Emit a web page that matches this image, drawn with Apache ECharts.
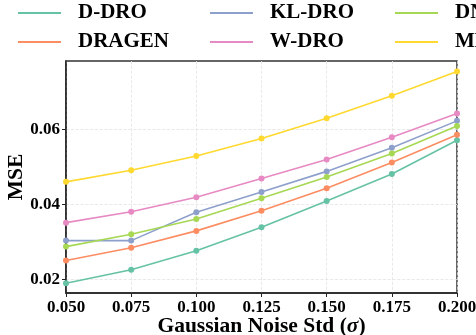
<!DOCTYPE html>
<html>
<head>
<meta charset="utf-8">
<script src="https://cdn.jsdelivr.net/npm/echarts@6/dist/echarts.min.js"></script>
<style>
  html, body { margin: 0; padding: 0; background: #fff; }
  #chart { width: 476px; height: 335px; }
</style>
</head>
<body>
<div id="chart"></div>
<script>
// noise levels on the x axis
const noiseStd = [0.050, 0.075, 0.100, 0.125, 0.150, 0.175, 0.200]
const xTicks = [0.050, 0.075, 0.100, 0.125, 0.150, 0.175, 0.200]
const yTicks = [0.02, 0.04, 0.06]

// MSE per method
const dDro   = [0.0189, 0.0225, 0.0276, 0.0339, 0.0409, 0.0481, 0.0571]
const dragen = [0.0250, 0.0284, 0.0329, 0.0383, 0.0443, 0.0512, 0.0586]
const klDro  = [0.0303, 0.0303, 0.0379, 0.0433, 0.0488, 0.0551, 0.0623]
const wDro   = [0.0351, 0.0380, 0.0419, 0.0469, 0.0520, 0.0579, 0.0643]
const dnn    = [0.0287, 0.0320, 0.0361, 0.0416, 0.0473, 0.0536, 0.0609]
const mmd    = [0.0460, 0.0491, 0.0529, 0.0576, 0.0630, 0.0690, 0.0755]

const names = ['D-DRO', 'DRAGEN', 'KL-DRO', 'W-DRO', 'DNN', 'MMD-DRO']
const values = [dDro, dragen, klDro, wDro, dnn, mmd]
const colors = ['#66c2a5', '#fc8d62', '#8da0cb', '#e78ac3', '#a6d854', '#ffd92f']

const FONT = "'Liberation Serif', 'Times New Roman', serif"

const chart = echarts.init(document.getElementById('chart'), null, { renderer: 'canvas' })

// legend laid out like matplotlib ncol=3 (column-wise fill)
const legendPos = [
  { left: 18, top: 1 }, { left: 18, top: 30 },
  { left: 210, top: 1 }, { left: 210, top: 30 },
  { left: 395, top: 1 }, { left: 395, top: 30 },
]
const legends = names.map((n, i) => ({
  data: [n],
  left: legendPos[i].left,
  top: legendPos[i].top,
  padding: 0,
  icon: 'rect',
  itemWidth: 43,
  itemHeight: 2,
  textStyle: {
    fontFamily: FONT, fontWeight: 'bold', fontSize: 21, color: '#000',
    lineHeight: 24, padding: [0, 0, 0, 12],
  },
}))

function seriesLine(name, data, color) {
  return {
    name,
    type: 'line',
    data: noiseStd.map((x, i) => [x, data[i]]),
    symbol: 'circle',
    symbolSize: 6,
    lineStyle: { width: 1.6, color },
    itemStyle: { color },
    animation: false,
  }
}

chart.setOption({
  backgroundColor: '#fff',
  legend: legends,
  grid: {
    left: 66, right: 19, top: 61, bottom: 42,
    outerBoundsMode: 'none',
    show: true, borderColor: '#333', borderWidth: 1.5,
  },
  xAxis: {
    type: 'value',
    min: 0.05, max: 0.2, interval: 0.025,
    name: 'Gaussian Noise Std ({s|σ})',
    nameLocation: 'middle',
    nameGap: 22,
    nameMoveOverlap: false,
    nameTextStyle: {
      fontFamily: FONT, fontWeight: 'bold', fontSize: 21.5, color: '#000',
      rich: { s: { fontFamily: FONT, fontWeight: 'bold', fontStyle: 'italic', fontSize: 21.5, color: '#000' } },
    },
    axisLine: { lineStyle: { color: '#222', width: 1.5 } },
    axisTick: { show: true, length: 4, lineStyle: { color: '#222' } },
    axisLabel: {
      fontFamily: FONT, fontWeight: 'bold', fontSize: 17, color: '#000', margin: 6,
      formatter: v => v.toFixed(3),
      customValues: xTicks,
    },
    splitLine: { show: true, lineStyle: { color: '#e3e3e3', type: 'dashed', width: 0.8 } },
  },
  yAxis: {
    type: 'value',
    min: 0.0163, max: 0.0783,
    name: 'MSE',
    nameLocation: 'middle',
    nameGap: 39,
    nameMoveOverlap: false,
    nameTextStyle: { fontFamily: FONT, fontWeight: 'bold', fontSize: 21.5, color: '#000' },
    axisLine: { show: true, lineStyle: { color: '#222', width: 1.5 } },
    axisTick: { show: true, length: 4, lineStyle: { color: '#222' }, customValues: yTicks },
    axisLabel: {
      fontFamily: FONT, fontWeight: 'bold', fontSize: 17, color: '#000', margin: 6,
      formatter: v => v.toFixed(2),
      customValues: yTicks,
    },
    splitLine: { show: true, lineStyle: { color: '#e3e3e3', type: 'dashed', width: 0.8 } },
  },
  series: names.map((n, i) => seriesLine(n, values[i], colors[i])),
})
</script>
</body>
</html>
